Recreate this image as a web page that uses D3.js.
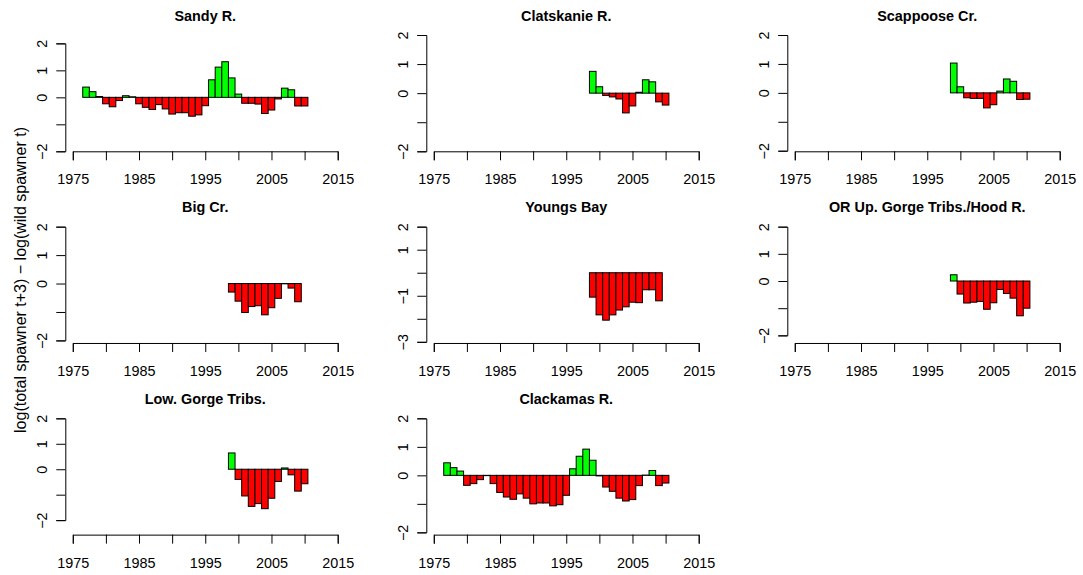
<!DOCTYPE html>
<html><head><meta charset="utf-8">
<script src="https://cdn.jsdelivr.net/npm/d3@7"></script>
<style>
body{margin:0;background:#fff}
text{font-family:"Liberation Sans",Arial,Helvetica,sans-serif}
</style>
</head><body>
<svg id="chart" width="1083" height="575"></svg>
<script>
// ---- data ----
const panelTitles = ["Sandy R.", "Clatskanie R.", "Scappoose Cr.", "Big Cr.", "Youngs Bay",
  "OR Up. Gorge Tribs./Hood R.", "Low. Gorge Tribs.", "Clackamas R."];
const startYears = [1977, 1999, 1999, 1999, 1999, 1999, 1999, 1977];
const sandyR = [0.38, 0.21, 0.03, -0.24, -0.35, -0.12, 0.06, 0.02, -0.24, -0.37, -0.45, -0.27, -0.43,
  -0.62, -0.57, -0.57, -0.70, -0.65, -0.31, 0.65, 1.12, 1.32, 0.72, 0.12, -0.22, -0.22, -0.25,
  -0.60, -0.47, -0.06, 0.34, 0.28, -0.32, -0.32];
const clatskanieR = [0.75, 0.22, -0.08, -0.13, -0.20, -0.68, -0.44, 0.03, 0.46, 0.39, -0.30, -0.41];
const scappooseCr = [1.03, 0.21, -0.17, -0.19, -0.19, -0.52, -0.41, 0.06, 0.48, 0.40, -0.23, -0.22];
const bigCr = [-0.30, -0.62, -1.02, -0.81, -0.78, -1.10, -0.85, -0.52, -0.01, -0.16, -0.64];
const youngsBay = [-1.06, -1.83, -2.06, -1.83, -1.62, -1.48, -1.28, -1.30, -0.74, -0.74, -1.22];
const orUpGorge = [0.23, -0.48, -0.81, -0.78, -0.75, -1.04, -0.80, -0.31, -0.46, -0.63, -1.28, -1.00];
const lowGorge = [0.64, -0.40, -1.05, -1.46, -1.35, -1.55, -1.14, -0.48, 0.05, -0.22, -0.86, -0.57];
const clackamasR = [0.44, 0.27, 0.15, -0.35, -0.29, -0.15, -0.01, -0.29, -0.60, -0.76, -0.84, -0.65,
  -0.80, -1.00, -0.97, -0.97, -1.07, -1.03, -0.70, 0.23, 0.67, 0.92, 0.53, -0.02, -0.41, -0.56,
  -0.80, -0.90, -0.85, -0.36, 0.01, 0.17, -0.36, -0.27];
const seriesValues = [sandyR, clatskanieR, scappooseCr, bigCr, youngsBay, orUpGorge, lowGorge, clackamasR];
const yLimits = [[-2, 2.31], [-2, 2], [-2.02, 2], [-2.09, 2], [-3.05, 2], [-2.28, 2], [-2.57, 2], [-2.08, 2]];
const yLabelsShown = [[-2, 0, 1, 2], [-2, 0, 1, 2], [-2, 0, 1, 2], [-2, 0, 1, 2], [-3, -1, 1, 2],
  [-2, 0, 1, 2], [-2, 0, 1, 2], [-2, 0, 1, 2]];
const xTicks = [1975, 1980, 1985, 1990, 1995, 2000, 2005, 2010, 2015];
const xLabelsShown = [1975, 1985, 1995, 2005, 2015];
const yAxisTitle = "log(total spawner t+3) \u2212 log(wild spawner t)";

// ---- layout ----
const colW = 361, rowH = 191.67;
const xDomain = [1973.87, 2016.13];
const svg = d3.select("#chart");
const fmtNum = v => (v < 0 ? "\u2212" + Math.abs(v) : String(v));

panelTitles.forEach((title, i) => {
  const c = i % 3, r = Math.floor(i / 3);
  const left = 65.3 + c * colW, right = 345.2 + c * colW;
  const top = 35 + r * rowH, bottom = 151.3 + r * rowH;
  const [ylo, yhi] = yLimits[i];
  const x = d3.scaleLinear().domain(xDomain).range([left, right]);
  const y = d3.scaleLinear().domain([ylo, yhi]).range([bottom, top]);
  const g = svg.append("g");

  // bars
  const vals = seriesValues[i];
  const data = vals.map((v, k) => ({ year: startYears[i] + k, v }));
  g.selectAll("rect").data(data).join("rect")
    .attr("x", d => x(d.year - 0.5))
    .attr("width", d => x(d.year + 0.5) - x(d.year - 0.5))
    .attr("y", d => y(Math.max(0, d.v)))
    .attr("height", d => Math.abs(y(d.v) - y(0)))
    .attr("fill", d => d.v >= 0 ? "#00ff00" : "#ff0000")
    .attr("stroke", "#000").attr("stroke-width", 1);

  // x axis
  const xAx = x.copy().domain([1975, 2015]).range([x(1975), x(2015)]);
  const gx = g.append("g").attr("transform", `translate(0,${bottom})`)
    .call(d3.axisBottom(xAx).tickValues(xTicks).tickSizeOuter(0).tickSize(9).tickPadding(14)
      .tickFormat(d => xLabelsShown.includes(d) ? String(d) : ""));
  gx.selectAll("text").attr("font-size", 14.4).attr("fill", "#000")
    .attr("dy", null).attr("dominant-baseline", "alphabetic").attr("y", 33);
  gx.select(".domain").attr("stroke", "#000");
  gx.selectAll(".tick line").attr("stroke", "#000");

  // y axis
  const t0 = Math.ceil(ylo - 1e-9), t1 = Math.floor(yhi + 1e-9);
  const yTicks = d3.range(t0, t1 + 1);
  const yAx = y.copy().domain([t0, t1]).range([y(t0), y(t1)]);
  const gy = g.append("g").attr("transform", `translate(${left},0)`)
    .call(d3.axisLeft(yAx).tickValues(yTicks).tickSizeOuter(0).tickSize(9)
      .tickFormat(d => yLabelsShown[i].includes(d) ? fmtNum(d) : ""));
  gy.select(".domain").attr("stroke", "#000");
  gy.selectAll(".tick line").attr("stroke", "#000");
  gy.selectAll(".tick text")
    .attr("font-size", 14.4).attr("fill", "#000")
    .attr("x", null).attr("dy", null)
    .attr("text-anchor", "middle")
    .attr("transform", "translate(-18,0) rotate(-90)");

  // title
  g.append("text").attr("x", (left + right) / 2).attr("y", 20.5 + r * rowH)
    .attr("text-anchor", "middle").attr("font-weight", "bold").attr("font-size", 14.4)
    .text(title);
});

// outer y-axis title
svg.append("text")
  .attr("transform", "translate(26,280) rotate(-90)")
  .attr("text-anchor", "middle").attr("font-size", 16)
  .text(yAxisTitle);
</script>
</body></html>
